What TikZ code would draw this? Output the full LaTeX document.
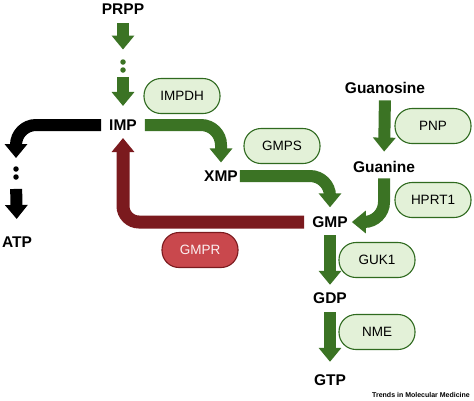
\documentclass[tikz,border=0pt]{standalone}
\usepackage{fontspec}
\setmainfont{Liberation Sans}
\usetikzlibrary{arrows.meta}
\definecolor{pathgreen}{HTML}{3B7324}
\definecolor{boxgreen}{HTML}{E3F1D8}
\definecolor{edgegreen}{HTML}{2F6A1F}
\definecolor{pathred}{HTML}{7B1A1E}
\definecolor{boxred}{HTML}{C9484D}
\tikzset{
  metab/.style={font=\fontsize{15.5bp}{17bp}\selectfont\bfseries, inner sep=0pt},
  enzyme/.style={draw=edgegreen, fill=boxgreen, line width=1.1bp, rounded corners=17bp,
    minimum width=76bp, minimum height=35bp, inner sep=0pt,
    font=\fontsize{13.5bp}{15bp}\selectfont},
  redenzyme/.style={enzyme, draw=pathred, fill=boxred, text=white!92!boxred},
  garrow/.style={draw=pathgreen, line width=12bp, -{Triangle[width=22bp,length=14bp]}},
  karrow/.style={garrow, draw=black},
  rarrow/.style={garrow, draw=pathred, line width=13bp},
  gdot/.style={circle, fill=pathgreen, inner sep=0pt, minimum size=5.5bp},
  kdot/.style={gdot, fill=black},
}
\begin{document}
\begin{tikzpicture}[x=1bp, y=-1bp]
  \useasboundingbox (0,0) rectangle (474,400);
  % metabolites
  \node[metab] (prpp) at (123,9) {PRPP};
  \node[metab] (imp) at (123,125) {IMP};
  \node[metab] (xmp) at (221,176) {XMP};
  \node[metab] (gmp) at (330,222) {GMP};
  \node[metab] (gdp) at (330,298) {GDP};
  \node[metab] (gtp) at (330,380) {GTP};
  \node[metab] (atp) at (17,242) {ATP};
  \node[metab] (guanosine) at (385,88) {Guanosine};
  \node[metab] (guanine) at (384,167) {Guanine};
  % dots
  \node[gdot] (d1) at (123,62) {};
  \node[gdot] (d2) at (123,70) {};
  \node[kdot] (k1) at (16,169) {};
  \node[kdot] (k2) at (16,177) {};
  % enzymes
  \node[enzyme] (impdh) at (182,96) {IMPDH};
  \node[enzyme] (gmps) at (282,146) {GMPS};
  \node[enzyme] (pnp) at (433,126) {PNP};
  \node[enzyme] (hprt) at (433,200) {HPRT1};
  \node[enzyme] (guk) at (377,260) {GUK1};
  \node[enzyme] (nme) at (377,332) {NME};
  \node[redenzyme] (gmpr) at (200,250) {GMPR};
  % reactions
  \draw[garrow, shorten <=8.5bp, shorten >=9.5bp] (prpp.south) -- (d1.north);
  \draw[garrow, shorten <=4bp, shorten >=13.5bp] (d2.south) -- (imp.north);
  \draw[garrow, rounded corners=20bp] ([xshift=8bp]imp.east) -| ([yshift=8bp]xmp.north);
  \draw[garrow, rounded corners=20bp] ([xshift=2bp]xmp.east) -| ([yshift=9bp]gmp.north);
  \draw[garrow, shorten <=6.5bp, shorten >=9.5bp] (guanosine.south) -- (guanine.north);
  \draw[garrow, rounded corners=20bp] ([yshift=-5.5bp]guanine.south) |- ([xshift=4bp]gmp.east);
  \draw[garrow, shorten <=7.5bp, shorten >=7.5bp] (gmp.south) -- (gdp.north);
  \draw[garrow, shorten <=8.5bp, shorten >=12.5bp] (gdp.south) -- (gtp.north);
  \draw[rarrow, rounded corners=16bp] ([xshift=-8bp]gmp.west) -| ([yshift=-7.5bp]imp.south);
  \draw[karrow, rounded corners=20bp] ([xshift=-8bp]imp.west) -| ([yshift=8bp]k1.north);
  \draw[karrow, shorten <=9bp, shorten >=17.5bp] (k2.south) -- (atp.north);
  % credit
  \node[font=\fontsize{7bp}{8bp}\selectfont\bfseries, inner sep=0pt] (credit) at (421,395) {Trends in Molecular Medicine};
\end{tikzpicture}
\end{document}
